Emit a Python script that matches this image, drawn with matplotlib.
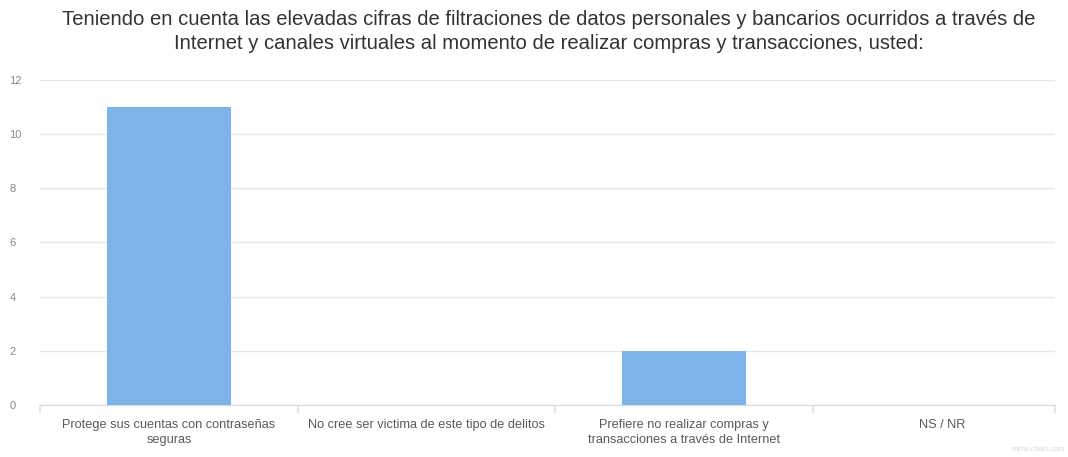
import matplotlib
matplotlib.use('Agg')
import matplotlib.pyplot as plt
import numpy as np

plt.rcParams['font.family'] = ['Liberation Sans', 'DejaVu Sans']

titulo = ("Teniendo en cuenta las elevadas cifras de filtraciones de datos personales y bancarios ocurridos a través de\n"
          "Internet y canales virtuales al momento de realizar compras y transacciones, usted:")
categorias = ["Protege sus cuentas con contraseñas\nseguras",
              "No cree ser victima de este tipo de delitos",
              "Prefiere no realizar compras y\ntransacciones a través de Internet",
              "NS / NR"]
valores = [11, 0, 2, 0]
yticks = [0, 2, 4, 6, 8, 10, 12]

fig = plt.figure(figsize=(10.68, 4.57), dpi=100)
ax = fig.add_axes([0.0375, 0.1138, 0.9504, 0.7112])

x = np.arange(len(categorias))
ax.bar(x, valores, width=0.48, color='#7db3ea', zorder=3)

ax.set_xlim(-0.5, 3.44)
ax.set_ylim(0, 12)
ax.set_yticks(yticks)
ax.set_yticklabels([str(t) for t in yticks], fontsize=8, color='#888888')
ax.tick_params(axis='y', length=0, pad=22)
for lbl in ax.get_yticklabels():
    lbl.set_horizontalalignment('left')

ax.set_xticks(x)
ax.set_xticklabels(categorias, fontsize=9.2, color='#5a5a5a', linespacing=1.4)
ax.tick_params(axis='x', length=0, pad=10)

# separadores entre categorias
ax.set_xticks(list(np.arange(-0.5, 3.0, 1)) + [3.44], minor=True)
ax.tick_params(axis='x', which='minor', length=6, color='#e6e6e6', width=1.5)

ax.grid(axis='y', color='#e6e6e6', linewidth=1, zorder=0)
for s in ['top', 'right', 'left']:
    ax.spines[s].set_visible(False)
ax.spines['bottom'].set_color('#d9d9d9')

fig.text(0.514, 0.978, titulo, ha='center', va='top', fontsize=14.6,
         color='#333333', linespacing=1.36)
fig.text(0.997, 0.008, "meta-chart.com", ha='right', va='bottom', fontsize=5.5,
         color='#d8d8d8')

fig.savefig('out.png', dpi=100)
